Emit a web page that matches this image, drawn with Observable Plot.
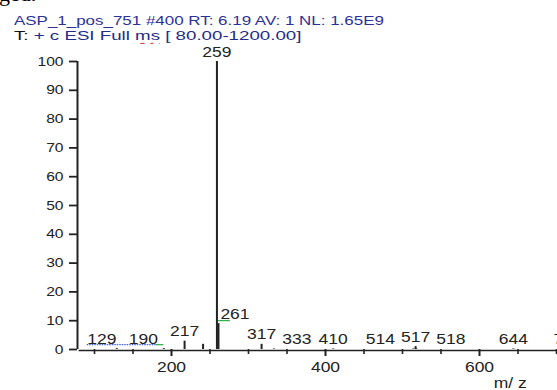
<!DOCTYPE html>
<html>
<head>
<meta charset="utf-8">
<script src="https://cdn.jsdelivr.net/npm/d3@7"></script>
<script src="https://cdn.jsdelivr.net/npm/@observablehq/plot@0.6"></script>
<style>
  html, body { margin: 0; padding: 0; background: #fff; }
  #page { position: relative; width: 557px; height: 390px; overflow: hidden; background: #fff;
          font-family: "Liberation Sans", Arial, sans-serif; }
  .frag { position: absolute; left: 0; top: 0; width: 90px; height: 8px; overflow: hidden; }
  .frag span { position: absolute; left: -1px; top: -19px; font: 22px "Liberation Serif", serif; color: #000; }
  .title { position: absolute; left: 14px; white-space: pre; font-size: 13.5px; line-height: 1;
           transform-origin: 0 0; }
  #t1 { top: 13.6px; color: #2c3199; transform: scaleX(1.255); }
  #t2 { top: 28.6px; color: #232b8a; transform: scaleX(1.385); }
  #t2 .lead { color: #111; }
  .ms { text-decoration: underline wavy #e0302a; text-decoration-thickness: 1px; text-underline-offset: 2px; }
  #chart { position: absolute; left: 0; top: 44px; }
</style>
</head>
<body>
<div id="page">
  <div class="frag"><span>ged.</span></div>
  <div class="title" id="t1">ASP_1_pos_751 #400 RT: 6.19 AV: 1 NL: 1.65E9</div>
  <div class="title" id="t2"><span class="lead">T:</span> + c ESI Full <span class="ms">ms</span> [ 80.00-1200.00]</div>
  <div id="chart"></div>
</div>
<script>
// Centroided full-scan peaks: m/z and relative abundance (%)
const peakMz = [129, 190, 217, 241, 259, 261, 317, 333, 410, 514, 517, 518, 644, 715];
const peakAbundance = [0.3, 0.3, 2.9, 1.8, 100, 9.0, 1.8, 0.2, 0.2, 0.2, 1.0, 0.2, 0.2, 0.2];
// Peaks that carry an m/z annotation
const labelledMz = [129, 190, 217, 259, 261, 317, 333, 410, 514, 517, 518, 644, 715];
// Axis ticks (the visible part of the 80–1200 scan)
const yTicks = [0, 10, 20, 30, 40, 50, 60, 70, 80, 90, 100];
const xMajorTicks = [200, 400, 600];
const xMinorTicks = [100, 150, 250, 300, 350, 450, 500, 550, 650, 700];
const scanRange = [80, 1200];
const xTitle = "m/ z";

const W = 557, H = 346;
const xRange = [78.6, 941];
const yRange = [305, 17];
const STRETCH = 1.25;          // horizontal stretch of every glyph
const LABEL_SIZE = 14;
const ink = "#222";

const xs = Plot.scale({x: {domain: scanRange, range: xRange}});
const ys = Plot.scale({y: {domain: [0, 100], range: yRange}});

const peaks = peakMz.map((mz, i) => ({mz, ab: peakAbundance[i]}));

// Greedy label placement: taller peaks keep their label over the peak,
// smaller ones slide sideways until they clear labels and peak lines.
const digitW = 0.556 * LABEL_SIZE * STRETCH;
const labels = peaks.filter(p => labelledMz.includes(p.mz)).map(p => {
  const px = xs.apply(p.mz), top = ys.apply(p.ab);
  return {...p, px, cx: px, w: String(p.mz).length * digitW, bottom: top - 5, topY: top - 15};
});
const GAP = 6, LINE_GAP = 3;
const placed = [];
function fits(l, cx) {
  for (const q of placed) {
    const wide = l.ab < 1 && (q.ab > 2 || Math.abs(q.cx - q.px) > 1);
    const gap = wide ? 2 * GAP : GAP;
    if (l.topY < q.bottom && q.topY < l.bottom && Math.abs(cx - q.cx) < (l.w + q.w) / 2 + gap) return false;
  }
  for (const p of peaks) {
    if (p.mz === l.mz) continue;
    const lx = xs.apply(p.mz), lt = ys.apply(p.ab);
    if (l.bottom > lt && Math.abs(cx - lx) < l.w / 2 + LINE_GAP) return false;
  }
  return true;
}
for (const l of labels.slice().sort((a, b) => b.ab - a.ab || b.mz - a.mz)) {
  for (let d = 0; d < 400; d += 0.5) {
    if (fits(l, l.px + d)) { l.cx = l.px + d; break; }
    if (fits(l, l.px - d)) { l.cx = l.px - d; break; }
  }
  placed.push(l);
}
labels.forEach(l => { l.xAt = xs.invert(l.cx); });

// Proofing underlines that sit under some annotations
const byMz = mz => labels.find(l => l.mz === mz);
const a = byMz(129), b = byMz(190), c = byMz(261);
const blueMarks = [{x1: xs.invert(a.cx - a.w / 2), x2: xs.invert(b.cx + b.w / 2 - 2), ab: a.ab}];
const greenLow = [{x1: xs.invert(b.cx + b.w / 2 - 2), x2: xs.invert(b.cx + b.w / 2 + 6), ab: b.ab}];
const greenHigh = [{x1: c.mz, x2: xs.invert(c.cx - c.w / 2 + 10), ab: c.ab}];

const chart = Plot.plot({
  width: W,
  height: H,
  marginLeft: 77,
  marginRight: 0,
  marginTop: 17,
  marginBottom: 41,
  x: {domain: scanRange, range: xRange},
  y: {domain: [0, 100], range: yRange},
  style: {fontFamily: "'Liberation Sans', Arial, sans-serif", color: ink, background: "#fff", overflow: "hidden"},
  marks: [
    Plot.axisY({ticks: yTicks, tickSize: 8, tickPadding: 6, fontSize: 12.5, strokeWidth: 1.8, label: null}),
    Plot.axisX({ticks: xMinorTicks, tickSize: 5, tickFormat: () => null, strokeWidth: 1.6, label: null}),
    Plot.axisX({ticks: xMajorTicks, tickSize: 7, tickPadding: 6, fontSize: 14, strokeWidth: 2, label: null}),
    Plot.text([xTitle], {x: (scanRange[0] + scanRange[1]) / 2, frameAnchor: "bottom", dy: 38,
                         lineAnchor: "bottom", fontSize: 14, fill: ink}),
    Plot.ruleX(peaks, {x: "mz", y1: 0, y2: "ab", stroke: ink, strokeWidth: 2}),
    Plot.ruleX([scanRange[0]], {y1: 0, y2: 100, dx: -1.6, stroke: ink, strokeWidth: 2}),
    Plot.ruleY([0], {x1: scanRange[0], x2: scanRange[1], dy: 1, stroke: ink, strokeWidth: 1.6}),
    Plot.ruleY(blueMarks, {y: "ab", x1: "x1", x2: "x2", dy: -4, stroke: "#3f5fe0", strokeWidth: 1.3, strokeDasharray: "1.5,1"}),
    Plot.ruleY(greenLow, {y: "ab", x1: "x1", x2: "x2", dy: -4, stroke: "#35b04a", strokeWidth: 1.3}),
    Plot.ruleY(greenHigh, {y: "ab", x1: "x1", x2: "x2", dy: -3, stroke: "#35b04a", strokeWidth: 1.3}),
    Plot.text(labels, {x: "xAt", y: "ab", text: d => String(d.mz), dy: -5, lineAnchor: "bottom",
                       fontSize: LABEL_SIZE, fill: ink})
  ]
});

// Widen every glyph about its own anchor point
chart.querySelectorAll("text").forEach(t => {
  const xa = t.getAttribute("x");
  let pre = "";
  if (xa != null && xa !== "" && !isNaN(+xa)) { pre = `translate(${+xa},0) `; t.removeAttribute("x"); }
  const tr = t.getAttribute("transform") || "";
  t.setAttribute("transform", `${tr} ${pre}scale(${STRETCH},1)`.trim());
});

document.getElementById("chart").appendChild(chart);
</script>
</body>
</html>
